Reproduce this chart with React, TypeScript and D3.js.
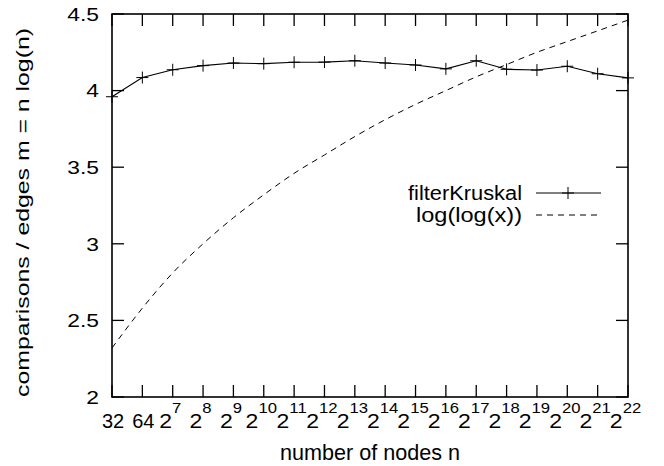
import React from "react";
import * as d3 from "d3";

// exponents k, x value is n = 2^k
const exponents = [5, 6, 7, 8, 9, 10, 11, 12, 13, 14, 15, 16, 17, 18, 19, 20, 21, 22];
const filterKruskal = [
  3.96, 4.085, 4.136, 4.163, 4.18, 4.176, 4.185, 4.186, 4.195, 4.18, 4.167,
  4.142, 4.195, 4.139, 4.134, 4.159, 4.11, 4.083
];
// log(log(x)) read at each tick
const logLog = [
  2.32, 2.58, 2.81, 3.0, 3.17, 3.32, 3.46, 3.58, 3.7, 3.81, 3.91, 4.0, 4.09,
  4.17, 4.25, 4.32, 4.39, 4.46
];
const xTickBase = ["32", "64", "2", "2", "2", "2", "2", "2", "2", "2", "2", "2", "2", "2", "2", "2", "2", "2"];
const xTickSup = ["", "", "7", "8", "9", "10", "11", "12", "13", "14", "15", "16", "17", "18", "19", "20", "21", "22"];
const yTicks = [2, 2.5, 3, 3.5, 4, 4.5];

const width = 664;
const height = 466;
const margin = { top: 14, right: 36, bottom: 69, left: 112 };
const font = "'Liberation Sans', Arial, Helvetica, sans-serif";

export default function App() {
  const plotW = width - margin.left - margin.right;
  const plotH = height - margin.top - margin.bottom;
  const x = d3.scaleLinear().domain([5, 22]).range([0, plotW]);
  const y = d3.scaleLinear().domain([2, 4.5]).range([plotH, 0]);
  const tick = 12;

  const line = d3
    .line<number>()
    .x((d, i) => x(exponents[i]))
    .y(d => y(d));
  const dashLine = d3
    .line<number>()
    .x((d, i) => x(exponents[i]))
    .y(d => y(d))
    .curve(d3.curveMonotoneX);

  const plus = (cx: number, cy: number, key: string | number) => (
    <path
      key={key}
      d={`M${cx - 6},${cy}H${cx + 6}M${cx},${cy - 6}V${cy + 6}`}
      stroke="#000"
      strokeWidth={1}
    />
  );

  return (
    <svg
      width={width}
      height={height}
      style={{ position: "absolute", left: 0, top: 0, background: "#fff" }}
      fontFamily={font}
    >
      <g transform={`translate(${margin.left},${margin.top})`}>
        {/* y ticks and labels */}
        {yTicks.map(t => (
          <g key={t}>
            <line x1={0} x2={tick} y1={y(t)} y2={y(t)} stroke="#000" strokeWidth={1.3} />
            <line x1={plotW - tick} x2={plotW} y1={y(t)} y2={y(t)} stroke="#000" strokeWidth={1.3} />
            <text
              transform={`translate(-13,${y(t)}) scale(1.2,1)`}
              dy="0.36em"
              textAnchor="end"
              fontSize={19}
            >
              {t}
            </text>
          </g>
        ))}
        {/* x ticks and labels */}
        {exponents.map((k, i) => (
          <g key={k}>
            <line x1={x(k)} x2={x(k)} y1={plotH} y2={plotH - tick} stroke="#000" strokeWidth={1.3} />
            <line x1={x(k)} x2={x(k)} y1={0} y2={tick} stroke="#000" strokeWidth={1.3} />
            <text
              transform={`translate(${x(k) + (xTickSup[i] ? -2.5 : 1)},${plotH + 31}) scale(${
                xTickSup[i] ? 1.15 : 1
              },1)`}
              textAnchor="middle"
              fontSize={20}
            >
              <tspan>{xTickBase[i]}</tspan>
              {xTickSup[i] && (
                <tspan dy={-15} fontSize={14.5}>
                  {xTickSup[i]}
                </tspan>
              )}
            </text>
          </g>
        ))}

        {/* dashed log(log(x)) */}
        <path
          d={dashLine(logLog) || ""}
          fill="none"
          stroke="#000"
          strokeWidth={1}
          strokeDasharray="6,5"
        />
        {/* filterKruskal */}
        <path d={line(filterKruskal) || ""} fill="none" stroke="#000" strokeWidth={1.1} />
        {filterKruskal.map((v, i) => plus(x(exponents[i]), y(v), i))}

        {/* frame */}
        <rect x={0} y={0} width={plotW} height={plotH} fill="none" stroke="#000" strokeWidth={1.6} />

        {/* legend */}
        <g transform={`translate(${410},${179})`}>
          <text
            x={-114}
            y={0}
            dy="0.36em"
            fontSize={19.5}
            textLength={114}
            lengthAdjust="spacingAndGlyphs"
          >
            filterKruskal
          </text>
          <line x1={14} x2={79} y1={0} y2={0} stroke="#000" strokeWidth={1.1} />
          {plus(46, 0, "leg")}
          <text
            x={-106}
            y={22}
            dy="0.36em"
            fontSize={19.5}
            textLength={106}
            lengthAdjust="spacingAndGlyphs"
          >
            log(log(x))
          </text>
          <line x1={14} x2={79} y1={22} y2={22} stroke="#000" strokeWidth={1} strokeDasharray="6,5" />
        </g>
      </g>

      {/* axis titles */}
      <text
        x={margin.left + plotW / 2 - 90}
        y={460}
        fontSize={22}
        textLength={180}
        lengthAdjust="spacingAndGlyphs"
      >
        number of nodes n
      </text>
      <text
        transform={`translate(29,${212.5 + 184.5}) rotate(-90)`}
        fontSize={18.5}
        textLength={369}
        lengthAdjust="spacingAndGlyphs"
      >
        comparisons / edges m = n log(n)
      </text>
    </svg>
  );
}
